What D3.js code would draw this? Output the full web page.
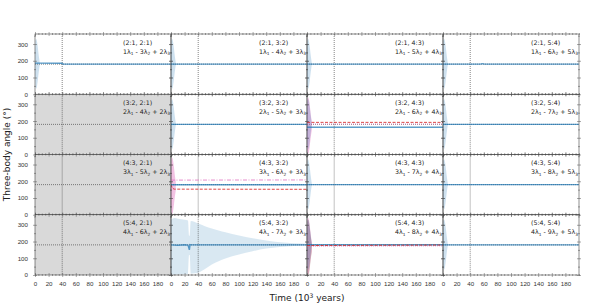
<!DOCTYPE html>
<html><head><meta charset="utf-8">
<script src="https://cdn.jsdelivr.net/npm/d3@7"></script>
<style>
body{margin:0;background:#fff;}
svg{display:block;font-family:"DejaVu Sans",sans-serif;}
</style></head><body>
<svg id="c" width="598" height="307"></svg>
<script>
// ---------------- data ----------------
const rowRes = ["2:1","3:2","4:3","5:4"];
const colRes = ["2:1","3:2","4:3","5:4"];
const coefA = [1,2,3,4];          // λ1 coefficient by row
const coefC = [2,3,4,5];          // λ3 coefficient by column
const greyCells = ["1,0","2,0","3,0"];
const xTicks = [0,20,40,60,80,100,120,140,160,180];
const yTicks = [0,100,200,300];
const flatT = [0,200];
// blue mean angle per panel (null = no line)
const blueMean = [[180,180,180,180],[null,180,163,180],[null,179,180,180],[null,180,181,180]];
// start-up spread (first few kyr)
const bandT     = [0,0.8,1.8,3,4.3,5.6,7];
const bandUpper = [250,322,330,314,275,228,188];
const bandLower = [110,40,34,50,88,136,174];
// panels with a start band and its colour key
const bandBlue = ["0,0","0,1","0,2","0,3","1,1","1,2","1,3","2,2","2,3","3,2","3,3"];
const bandPink = ["1,2","2,1","3,2"];
const bandRed  = ["3,2"];
// (2:1, 2:1) blue series
const blue00T = [0,1,40,41,200];
const blue00V = [186,186,185,180,180];
// (2:1, 5:4) blue series
const blue03T = [0,55,58,61,200];
const blue03V = [180,180,183,180,180];
// (5:4, 3:2) blue series and envelope
const blue31T = [0,10,20,25,27,28,30,40,200];
const blue31V = [180,178,181,179,150,182,180,180,180];
const env31T  = [0,5,10,20,25,26.5,27.5,29,35,40,50,60,70,80,100,120,140,160,180,200];
const env31Up = [330,340,336,330,326,235,235,322,316,308,292,278,266,255,236,220,206,196,190,186];
const env31Lo = [2,2,3,4,6,120,120,8,10,14,36,62,82,98,122,142,158,168,174,177];
// red dashed means
const red12T = [0,3,200];   const red12V = [192,192,192];
const red21T = [0,2,5,200]; const red21V = [180,158,153,152];
const red32T = [0,3,200];   const red32V = [176,176,179];
// pink dash-dot / dotted means
const pink21T = [0,3,200];  const pink21V = [207,207,208];
const pink12T = [0,3,200];  const pink12V = [182,182,182];
const pink32T = [0,3,200];  const pink32V = [172,172,174];

// ---------------- layout ----------------
const svg = d3.select("#c");
const X0 = 35, Y0 = 34, PW = 136, PH = 60.25;
const blue = "#1f77b4", red = "#d62728", pink = "#e377c2";

function panel(r, c) {
  const x0 = X0 + c * PW, y0 = Y0 + r * PH;
  const xs = d3.scaleLinear().domain([0,200]).range([x0, x0 + PW]);
  const ys = d3.scaleLinear().domain([0,360]).range([y0 + PH, y0]);
  const g = svg.append("g");
  const key = r + "," + c;
  const clipId = "clip" + r + c;
  g.append("clipPath").attr("id", clipId).append("rect")
    .attr("x", x0).attr("y", y0).attr("width", PW).attr("height", PH);
  const inner = g.append("g").attr("clip-path", `url(#${clipId})`);
  if (greyCells.includes(key)) {
    inner.append("rect").attr("x", x0).attr("y", y0).attr("width", PW).attr("height", PH).attr("fill", "#d9d9d9");
  }
  const line = (T, V) => d3.line().x((d,i) => xs(T[i])).y(d => ys(d))(V);
  const area = (T, U, L) => d3.area().curve(d3.curveMonotoneX).x((d,i) => xs(T[i])).y0((d,i) => ys(L[i])).y1(d => ys(d))(U);

  // bands
  if (r === 3 && c === 1) {
    inner.append("path").attr("d", area(env31T, env31Up, env31Lo)).attr("fill", blue).attr("opacity", 0.17);
  }
  if (bandPink.includes(key)) {
    inner.append("path").attr("d", area(bandT, bandUpper.map(v => Math.min(v + 10, 355)), bandLower.map(v => Math.max(v - 30, 0)))).attr("fill", pink).attr("opacity", 0.45);
  }
  if (bandRed.includes(key)) {
    inner.append("path").attr("d", area(bandT, bandUpper, bandLower.map(v => Math.max(v - 40, 0)))).attr("fill", "#8c564b").attr("opacity", 0.3);
  }
  if (bandBlue.includes(key)) {
    inner.append("path").attr("d", area(bandT, bandUpper, bandLower)).attr("fill", blue).attr("opacity", 0.22);
  }

  // reference lines
  inner.append("line").attr("x1", xs(40)).attr("x2", xs(40)).attr("y1", y0).attr("y2", y0 + PH)
    .attr("stroke", "#333").attr("stroke-width", 0.6).attr("stroke-dasharray", "1,1");
  inner.append("line").attr("x1", x0).attr("x2", x0 + PW).attr("y1", ys(180)).attr("y2", ys(180))
    .attr("stroke", "#333").attr("stroke-width", 0.6).attr("stroke-dasharray", "1,1");

  // series
  const addLine = (T, V, col, w, dash, op) => inner.append("path").attr("d", line(T, V))
    .attr("fill", "none").attr("stroke", col).attr("stroke-width", w)
    .attr("stroke-dasharray", dash).attr("opacity", op);
  if (r === 1 && c === 2) { addLine(pink12T, pink12V, pink, 0.9, "1,1", 0.8); addLine(red12T, red12V, red, 1, "3,1.5", 0.85); }
  if (r === 2 && c === 1) { addLine(pink21T, pink21V, pink, 1, "4,1.5,1,1.5", 0.85); addLine(red21T, red21V, red, 1, "3,1.5", 0.85); }
  if (r === 3 && c === 2) { addLine(pink32T, pink32V, pink, 0.9, "1,1", 0.8); }
  if (r === 0 && c === 0) addLine(blue00T, blue00V, blue, 1.4, null, 0.72);
  else if (r === 0 && c === 3) addLine(blue03T, blue03V, blue, 1.4, null, 0.72);
  else if (r === 3 && c === 1) addLine(blue31T, blue31V, blue, 1.4, null, 0.72);
  else if (blueMean[r][c] !== null) addLine(flatT, [blueMean[r][c], blueMean[r][c]], blue, 1.4, null, 0.72);
  if (r === 3 && c === 2) addLine(red32T, red32V, red, 1, "3,1.5", 0.85);

  // axes with in-out ticks
  const styleAxis = (a, major, horiz) => {
    a.select(".domain").remove();
    a.selectAll(".tick line").attr("stroke", "#555").attr("stroke-width", 0.5)
      .each(function(d) {
        const len = major.includes(d) ? 2 : 1;
        const s = d3.select(this);
        if (horiz) s.attr("y1", -len).attr("y2", len); else s.attr("x1", -len).attr("x2", len);
      });
    a.selectAll(".tick text").attr("fill", "#333").attr("font-size", 6.2);
    a.selectAll(".tick text").filter(function() { return this.textContent === ""; }).remove();
  };
  const xAll = d3.range(0, 201, 5);
  const yAll = d3.range(0, 351, 50);
  const showX = r === 3, showY = c === 0;
  const ab = g.append("g").attr("transform", `translate(0,${y0 + PH})`)
    .call(d3.axisBottom(xs).tickValues(xAll).tickSize(2).tickPadding(5)
      .tickFormat(d => (showX && xTicks.includes(d)) ? d : ""));
  styleAxis(ab, xTicks, true);
  const at = g.append("g").attr("transform", `translate(0,${y0})`)
    .call(d3.axisTop(xs).tickValues(xAll).tickSize(2).tickFormat(""));
  styleAxis(at, xTicks, true);
  const al = g.append("g").attr("transform", `translate(${x0},0)`)
    .call(d3.axisLeft(ys).tickValues(yAll).tickSize(2).tickPadding(5)
      .tickFormat(d => (showY && yTicks.includes(d)) ? d : ""));
  styleAxis(al, yTicks, false);
  const ar = g.append("g").attr("transform", `translate(${x0 + PW},0)`)
    .call(d3.axisRight(ys).tickValues(yAll).tickSize(2).tickFormat(""));
  styleAxis(ar, yTicks, false);

  // frame
  g.append("rect").attr("x", x0).attr("y", y0).attr("width", PW).attr("height", PH)
    .attr("fill", "none").attr("stroke", "#444").attr("stroke-width", 0.6);

  // labels
  const tx = x0 + 88;
  g.append("text").attr("x", tx).attr("y", y0 + 10.5).attr("font-size", 6.3).attr("fill", "#222")
    .text(`(${rowRes[r]}, ${colRes[c]})`);
  const t2 = g.append("text").attr("x", tx).attr("y", y0 + 19.5).attr("font-size", 6.3).attr("fill", "#222");
  const a = coefA[r], cc = coefC[c], b = a + cc;
  const parts = [[a + "λ", "1"], [" - " + b + "λ", "2"], [" + " + cc + "λ", "3"]];
  parts.forEach(([main, sub], i) => {
    t2.append("tspan").attr("font-size", 6.3).attr("dy", i === 0 ? 0 : -1.6).text(main);
    t2.append("tspan").attr("font-size", 4.3).attr("dy", 1.6).text(sub);
  });
}

for (let r = 0; r < 4; r++) for (let c = 0; c < 4; c++) panel(r, c);

svg.append("text").attr("transform", `translate(10,${Y0 + 2 * PH}) rotate(-90)`)
  .attr("text-anchor", "middle").attr("font-size", 9).attr("fill", "#222").text("Three-body angle (°)");
const xl = svg.append("text").attr("x", X0 + 2 * PW).attr("y", 301).attr("text-anchor", "middle")
  .attr("font-size", 9).attr("fill", "#222");
xl.append("tspan").text("Time (10");
xl.append("tspan").attr("font-size", 6).attr("dy", -3.5).text("3");
xl.append("tspan").attr("dy", 3.5).text(" years)");
</script>
</body></html>
